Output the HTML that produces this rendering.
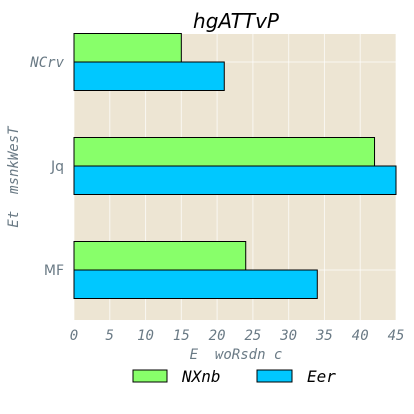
<!DOCTYPE html>
<html><head><meta charset="utf-8"><style>
body{margin:0;background:#fff;width:414px;height:414px;overflow:hidden}
svg{display:block}
.t{font-family:"DejaVu Sans Mono","Liberation Mono",monospace;font-style:italic;fill:#6a7a85}
.u{font-family:"DejaVu Sans","Liberation Sans",sans-serif;font-style:normal;fill:#6a7a85}
</style></head><body>
<svg width="414" height="414">
<rect x="74" y="34" width="322" height="286" fill="#ede5d3"/>
<g id="grid"></g><g id="bars"></g><g id="ticks"></g>
<text x="236" y="28" text-anchor="middle" font-family="DejaVu Sans, Liberation Sans, sans-serif" font-style="italic" font-size="20" fill="#000">hgATTvP</text>
<text class="t" x="236" y="359" text-anchor="middle" font-size="14" style="white-space:pre">E  woRsdn c</text>
<text class="t" x="18" y="177" text-anchor="middle" font-size="14" style="white-space:pre" transform="rotate(-90 18 177)">Et  msnkWesT</text>
<g>
<rect x="133" y="370" width="34" height="12" fill="#88ff6a" stroke="#000"/>
<text x="182" y="382" font-family="DejaVu Sans Mono, monospace" font-style="italic" font-size="16">NXnb</text>
<rect x="257" y="370" width="35" height="12" fill="#00c8ff" stroke="#000"/>
<text x="307" y="382" font-family="DejaVu Sans Mono, monospace" font-style="italic" font-size="16">Eer</text>
</g>
</svg>
<script>
const categories=["NCrv","Jq","MF"];
const seriesNXnb=[15,42,24];
const seriesEer=[21,45,34];
const xTicks=[0,5,10,15,20,25,30,35,40,45];
const NS="http://www.w3.org/2000/svg";
const x=v=>74+v*(322/45);
const yc=i=>62+i*104;
function mk(tag,attrs,parent){const e=document.createElementNS(NS,tag);for(const k in attrs)e.setAttribute(k,attrs[k]);document.getElementById(parent).appendChild(e);return e;}
xTicks.forEach(t=>{
 const g=mk('line',{x1:x(t),x2:x(t),y1:34,y2:320,stroke:'#fff','stroke-width':1,opacity:0.7},'grid');
 
 
 const l=mk('text',{x:x(t),y:340,'text-anchor':'middle','font-size':14,class:'t'},'ticks');
 l.textContent=t;
 
 
});
categories.forEach((c,i)=>{
 const g=mk('line',{x1:74,x2:396,y1:yc(i),y2:yc(i),stroke:'#fff','stroke-width':1,opacity:0.7},'grid');
 
 
 const b1=mk('rect',{x:74,y:yc(i)-28.5,width:x(seriesNXnb[i])-74,height:28.5,fill:'#88ff6a',stroke:'#000','stroke-width':1},'bars');
 
 
 const b2=mk('rect',{x:74,y:yc(i),width:x(seriesEer[i])-74,height:28.5,fill:'#00c8ff',stroke:'#000','stroke-width':1},'bars');
 
 
 const l=mk('text',{x:64,y:yc(i)+5,'text-anchor':'end','font-size':14,class:(c==="NCrv"?'t':'u')},'ticks');
 l.textContent=c;
 
 
});
</script>
</body></html>
